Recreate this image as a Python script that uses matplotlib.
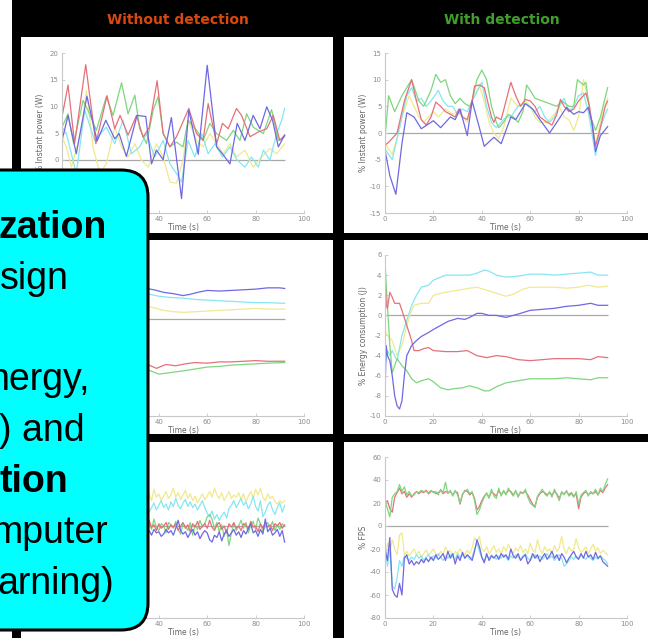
"""Slide crop: power / energy / FPS traces with and without detection."""

import matplotlib

matplotlib.use("Agg")
import numpy as np
from matplotlib import pyplot as plt
from matplotlib.patches import FancyBboxPatch, Rectangle

plt.rcParams["axes.unicode_minus"] = False

W, H, DPI = 648, 638, 100

# ---------------------------------------------------------------- row 1: % instant power (W)
# without detection (left column)
pw_wo_red_t = [0, 2.5, 5.2, 9.8, 14, 18.6, 21.8, 24, 27.3, 30.8,
               33.5, 36, 39.3, 41.8, 44.6, 47.3, 52.4, 55.6, 58.3, 60.4,
               63.9, 66.3, 68.7, 72.1, 74.2, 77.7, 81.1, 84.6, 87.3, 90, 92]
pw_wo_red = [8, 14, 3, 17.8, 3, 12, 5.8, 8.3, 4.6, 8.3,
             4.2, 6, 14.8, 4.9, 2.4, 4.3, 9.6, 4.9, 3.6, 10.5,
             3, 6.8, 5.8, 9.6, 8.3, 4.3, 5.2, 5.8, 8.3, 3.6, 4.6]
pw_wo_blue_t = [0, 2.5, 5.9, 10.3, 14.5, 18.1, 21.8, 23.6, 26.6, 31,
                34.6, 37, 39, 41.8, 45.2, 49.4, 52.4, 56.3, 60, 63.9,
                66.3, 69.4, 72.4, 75.6, 79, 81.8, 84.6, 87, 89.4, 92]
pw_wo_blue = [3.6, 8.3, 1.1, 11.9, 3.5, 7.4, 3.9, 4.9, 0.6, 8.3,
              8.1, -0.8, 1.8, 0, 7.9, -7.3, 9.3, 1, 17.7, 2.4,
              1.1, -0.8, 6.8, 3.6, 8.3, 5.8, 9.9, 7.4, 2.4, 4.6]
pw_wo_green_t = [0, 2.5, 4.8, 8.7, 11.4, 14.2, 18.3, 21.1, 24.6, 27.3,
                 30.1, 32.1, 34.9, 37.7, 39.7, 41.8, 44.6, 47.3, 50, 52.1,
                 55.6, 58.3, 61.1, 63.9, 68, 70.8, 73.5, 76.3, 79, 83.2,
                 86.6, 89.4, 92]
pw_wo_green = [6.1, 8.6, 3, 11.1, 8.6, 5.5, 11.8, 8.3, 14.4, 8.6,
               12.1, 5.8, 3, 9.3, 11.8, 4.9, 2.4, 3.3, 2.4, 7.4,
               5.5, 3.6, 6.8, 4.9, 3.6, 5.5, 3.6, 8.6, 6.1, 4.9,
               9.4, 3.6, 4.3]
pw_wo_cyan_t = [0, 1.8, 5.9, 9.4, 13.5, 18.3, 21.8, 25.2, 28.7, 32.1,
                34.9, 38.3, 41.8, 44.6, 47.3, 49.4, 52.1, 54.9, 57.7, 60.4,
                63.2, 66.3, 69.4, 72.4, 75.6, 78.3, 81.1, 83.2, 85.9, 88.7,
                90.8, 92]
pw_wo_cyan = [6.1, 4.9, -2.6, 9.3, 3.6, 6.1, 3, 7.4, 1.1, 2.4,
              4.9, 0.5, 3.6, -0.8, -2.6, -4.2, 3.6, 0.5, 4.9, 1.1,
              3, 0.5, 2.4, -0.1, -1.4, 0.5, -1.4, 1.8, -0.1, 4.9,
              7.4, 9.6]
pw_wo_yellow_t = [0, 1.8, 3.9, 8, 10.1, 12.8, 15.6, 18.3, 21.8, 24.6,
                  27.3, 30.1, 32.8, 35.6, 39, 41.8, 44.6, 47.3, 50, 52.1,
                  55.6, 58.3, 61.1, 63.9, 66.6, 69.4, 72.1, 75.6, 79, 82.5,
                  85.9, 88.7, 92]
pw_wo_yellow = [4.2, 2.4, -1.4, 5.5, 13, 2.4, -2.6, -0.8, 6.1, 2.4,
                0.5, 3, -0.1, -1.4, 3, 0.5, -4.2, -4.4, -0.1, 7.4,
                3.6, 2.4, 4.9, 3, 1.1, 3, 0.5, 1.8, -1.4, 0.5,
                2.1, 1.1, 3]

# with detection (right column)
pw_wd_red_t = [0, 2, 5, 8, 11, 13, 15, 17, 19, 21,
               23, 25, 27, 29, 30.5, 32, 34, 36, 37, 39,
               41, 44, 45, 46, 48, 50, 52, 54, 56, 58,
               60, 62, 64, 67, 69, 71, 72.5, 74, 76, 78,
               80, 83, 84.5, 87, 89, 91, 92]
pw_wd_red = [-2.3, -1.5, 0, 6, 10, 6, 2.5, 1.5, 3, 5.8,
             5, 4, 3.5, 3, 4.5, 3, 2.5, 6, 8.8, 9,
             8.5, 3, 2, 3, 2.5, 6, 9.5, 7, 5, 6.3,
             6, 5, 3, 2, 1.5, 3.5, 6.3, 5, 4, 4.5,
             6, 7.5, 5, -2.5, 1, 5, 6]
pw_wd_blue_t = [0, 2, 4.5, 7, 9, 12, 15, 20, 23, 27,
                29, 31, 34, 36, 39, 41, 45, 48, 52, 54,
                58, 61, 64, 68, 71, 75, 78, 80, 82, 84,
                85.5, 87, 89, 92]
pw_wd_blue = [-3.2, -8, -11.5, -2, 3.8, 3, 0.8, 2.3, 1, 3,
              2.5, 4.5, -0.5, 6, 1, -2.5, -0.8, -2, 3, 2.5,
              5.5, 4.5, 2.5, 0, 2, 4.8, 3.5, 4, 3.8, 4.8,
              2, -3.5, -0.5, 1.2]
pw_wd_green_t = [0, 1.5, 4, 7, 11, 14, 16, 19, 21, 23,
                 25, 27, 29, 31, 33, 35, 36, 38, 40, 42,
                 44, 46, 47, 49, 51, 53, 55, 57, 58.5, 60,
                 62, 65, 68, 71, 73, 76, 78, 79.5, 82, 83,
                 85, 87, 89, 92]
pw_wd_green = [-1, 7, 4, 7, 10, 6, 5, 8, 11, 9.5,
               10, 7, 5.5, 6.5, 5.5, 5, 6, 10, 11.8, 10,
               5, 2, 1, 2, 3.5, 3, 2, 4, 9, 8,
               6.5, 6, 5.5, 5, 6, 5, 5, 10, 9, 9.5,
               3, 0.5, 3, 8.5]
pw_wd_cyan_t = [0, 3, 6, 9, 11, 13, 15, 17, 19, 22,
                24, 26, 28, 30, 32, 34, 36, 40, 42, 44,
                46, 48, 50, 52, 55, 58, 60, 62, 64, 66,
                68, 70, 72, 74, 76, 78, 80, 82, 84, 87,
                89, 91, 92]
pw_wd_cyan = [-3, -5, 1, 7, 8.5, 6, 6.5, 5, 6, 8,
              6, 5, 5, 3.5, 4.5, 4, 6, 9.5, 5, 2,
              1, 2, 3, 3, 5, 5.5, 5, 4, 5, 3,
              2, 3, 5, 6.5, 4, 5, 7, 7.5, 4, -4.2,
              1, 3.5, 4.5]
pw_wd_yellow_t = [0, 3, 5, 7, 10, 12, 14, 16, 18, 20,
                  22, 25, 28, 30, 32, 34, 36, 39, 41, 43,
                  45, 47, 49, 52, 55, 58, 60, 62, 64, 67,
                  70, 72, 74, 76, 78, 80, 82, 84, 86, 87,
                  90, 92]
pw_wd_yellow = [-2, -4, -1, 3, 7, 5, 3, 2, 3, 4,
                3, 4.5, 3.5, 4, 3, 2, 6, 9, 6, 2,
                0, -1, 1, 6.5, 5, 6, 5, 3, 2, 2,
                3.5, 5, 3, 2.5, 0.5, 3, 10, 6, 0, -2,
                4, 6.5]

# ---------------------------------------------------------------- row 2: % energy consumption (J)
en_wo_blue_t = [0, 2, 5, 10, 15, 20, 25, 30, 35, 38, 42, 46, 50, 53, 56, 60, 65, 70, 75, 80, 85, 90, 92]
en_wo_blue = [2, 6, 8, 7, 6, 5.5, 5.2, 5, 4.8, 4.6, 4.2, 4.0, 3.7, 3.9, 4.2, 4.5, 4.4, 4.5, 4.6, 4.7, 4.9, 4.9, 4.8]
en_wo_cyan_t = [0, 2, 5, 10, 15, 20, 25, 30, 35, 40, 45, 50, 55, 60, 65, 70, 75, 80, 85, 92]
en_wo_cyan = [3, 6, 5, 4.5, 4.3, 4.2, 4.1, 4.0, 4.0, 3.6, 3.4, 3.3, 3.1, 3.0, 2.9, 2.8, 2.7, 2.6, 2.6, 2.5]
en_wo_yellow_t = [0, 2, 5, 10, 15, 20, 25, 30, 36, 42, 46, 50, 55, 60, 65, 70, 75, 80, 85, 92]
en_wo_yellow = [1, 3, 2.5, 2.2, 2, 2.3, 2.1, 2.0, 2.0, 1.4, 1.2, 1.1, 1.2, 1.3, 1.4, 1.5, 1.6, 1.7, 1.6, 1.6]
en_wo_red_t = [0, 2, 5, 10, 15, 20, 25, 30, 36, 39, 43, 47, 51, 55, 60, 65, 70, 75, 80, 85, 92]
en_wo_red = [-2, -5, -6, -6.5, -6.8, -7, -7, -6.9, -7.1, -7.6, -7.0, -7.2, -6.9, -6.7, -6.8, -6.6, -6.6, -6.5,
             -6.4, -6.5, -6.5]
en_wo_green_t = [0, 2, 5, 10, 15, 20, 25, 30, 36, 40, 44, 50, 55, 60, 65, 70, 75, 80, 85, 92]
en_wo_green = [-3, -6, -7, -7.5, -7.6, -7.8, -7.7, -7.8, -7.9, -8.5, -8.3, -8.0, -7.7, -7.4, -7.3, -7.1, -7.0,
               -6.9, -6.8, -6.7]

en_wd_cyan_t = [0, 1, 2, 3, 5, 7, 9, 11, 13, 15, 18, 20, 23, 25, 30, 35, 38, 41, 43, 46,
                50, 55, 60, 65, 70, 75, 80, 85, 88, 92]
en_wd_cyan = [-5, -3.5, -4, -3.5, -4.5, -2, -0.5, 1, 2, 2.8, 3, 3.5, 3.8, 4, 4, 4, 4.2, 4.5, 4.4, 4,
              3.8, 3.9, 4.1, 4.1, 4, 4.1, 4.2, 4.3, 4, 4]
en_wd_yellow_t = [0, 1, 3, 5, 7, 9, 11, 12, 15, 18, 20, 25, 30, 35, 38, 42, 46, 50, 53, 57,
                  60, 65, 70, 75, 80, 84, 88, 92]
en_wd_yellow = [-1.5, -2, -2.5, -4, -3, -1, 0.5, 1, 1.2, 1.2, 2, 2.3, 2.5, 2.7, 2.8, 2.5, 2.2, 1.9, 2.1, 2.6,
                2.8, 2.8, 2.8, 2.7, 2.8, 3, 2.8, 2.9]
en_wd_red_t = [0, 0.5, 1, 2, 3, 4, 6, 7, 9, 11, 12, 14, 16, 18, 20, 25, 30, 34, 38, 42,
               46, 50, 55, 60, 65, 70, 75, 80, 85, 88, 92]
en_wd_red = [4, 1, 0.7, 2.3, 1.8, 1.2, 1.2, 0.5, -1, -2.5, -3.5, -3.5, -3.3, -3.2, -3.5, -3.6, -3.6, -3.5, -4, -4.2,
             -4, -4.1, -4.4, -4.5, -4.4, -4.3, -4.3, -4.3, -4.4, -4.1, -4.2]
en_wd_green_t = [0, 0.5, 1, 2, 3, 4, 5, 7, 9, 11, 13, 15, 18, 20, 23, 26, 28, 32, 35, 38,
                 41, 43, 46, 50, 55, 60, 65, 70, 75, 80, 85, 88, 92]
en_wd_green = [5.5, 3, 1, -3, -5.7, -5, -4.3, -5, -5.5, -6.3, -6.7, -6.5, -6.3, -6.6, -7.2, -7.4, -7.3, -7.2, -7, -7.2,
               -7.5, -7.5, -7.1, -6.7, -6.5, -6.3, -6.3, -6.3, -6.2, -6.3, -6.4, -6.2, -6.2]
en_wd_blue_t = [0, 0.5, 1, 2, 3, 4, 5, 6, 7, 8, 9, 11, 13, 15, 18, 20, 23, 26, 30, 33,
                35, 38, 40, 43, 46, 48, 50, 53, 56, 60, 65, 70, 75, 80, 85, 88, 92]
en_wd_blue = [-8, -3, -4, -4.5, -6, -8, -9, -9.3, -8.5, -6, -4, -3, -2.5, -2.1, -1.7, -1.4, -1, -0.6, -0.3, -0.4,
              -0.2, 0.2, 0.2, 0, 0, -0.1, -0.2, 0, 0.2, 0.5, 0.6, 0.7, 0.9, 1, 1.2, 1, 1]

# ---------------------------------------------------------------- row 3: % FPS, one reading per second
fps_t = list(range(93))
fps_wo_yellow = [5, 12, 18, 22, 20, 25, 19, 23, 21, 26, 22, 24, 20, 27, 23, 21, 25, 22, 28, 24,
                 20, 23, 26, 22, 25, 21, 27, 23, 24, 20, 26, 22, 25, 21, 24, 27, 28, 22, 32, 25,
                 28, 22, 26, 30, 24, 27, 33, 25, 29, 23, 27, 31, 24, 28, 22, 26, 20, 24, 28, 23,
                 26, 30, 25, 33, 27, 24, 29, 22, 26, 30, 24, 27, 25, 29, 23, 28, 21, 26, 30, 24,
                 32, 27, 33, 25, 22, 28, 24, 26, 21, 19, 22, 20, 22]
fps_wo_cyan = [3, 8, 12, 15, 14, 18, 13, 16, 12, 17, 14, 19, 15, 12, 18, 16, 13, 17, 20, 15,
               12, 16, 19, 14, 17, 13, 18, 15, 20, 16, 14, 18, 13, 17, 15, 19, 12, 16, 20, 14,
               18, 22, 16, 19, 14, 21, 17, 24, 18, 15, 20, 23, 17, 21, 16, 19, 14, 18, 22, 16,
               11, 8, 13, 6, 10, 5, 9, 12, 7, 15, 18, 22, 16, 20, 24, 18, 21, 15, 19, 26,
               17, 13, 22, 8, 12, 18, 21, 14, 10, 16, 20, 12, 18]
fps_wo_blue = [-2, -6, -4, -8, -5, -3, -7, -4, -9, -5, -2, -6, -8, -4, -7, -3, -5, -9, -6, -4,
               -7, -2, -5, -8, -4, -6, -3, -7, -5, -9, -4, -6, -2, -7, -5, -3, -4, -8, -3, -6,
               -5, -9, -7, -3, -6, -4, -8, -2, 5, -4, -7, -5, -10, -6, -3, -8, -5, -11, -7, -4,
               -6, -12, -14, -8, -10, -5, -13, -7, -4, -9, -6, -3, -8, -5, -10, -4, -7, -2, 2, -6,
               -4, -9, -3, -7, 6, -5, -2, -8, -6, -3, -9, -4, -14]
fps_wo_red = [0, 2, -1, 3, -2, 1, -3, 2, 0, -1, 3, -2, 1, -4, 2, 0, -1, 3, -2, 1,
              -3, 2, 0, -2, 4, -1, 1, -3, 2, 0, -2, 3, -1, 1, -3, 2, 5, -1, 1, -4,
              2, -2, 0, 3, -3, 1, -1, 2, -4, 0, 3, -2, 1, -5, 2, -1, 4, -3, 0, 2,
              -2, 5, -1, -4, 1, 3, -3, 0, -6, 2, -1, 3, -2, 0, -4, 2, 1, -3, 4, -1,
              0, -5, 2, -2, 3, -1, 1, -4, 2, 0, 3, -2, 1]
fps_wo_green = [2, -3, 4, -5, 1, 3, -2, 5, -4, 0, 3, -6, 2, -1, 4, -3, 0, 5, -2, 1,
                -4, 3, -1, 2, -5, 4, 0, -3, 2, -1, 4, -2, 1, -5, 3, 0, 2, -3, 6, -1,
                -4, 2, 0, -6, 3, 1, -2, 4, -3, -7, 2, 0, -4, 3, -8, 1, -3, 5, -1, 2,
                8, 10, 6, -2, 3, -5, 1, -9, -3, -17, -6, 2, -4, 0, 5, -2, 3, -6, 1, 4,
                -3, 7, 2, -5, 0, 3, -2, 4, -4, 1, -3, 2, 0]

fps_wd_green = [22, 15, 8, 25, 28, 30, 36, 30, 34, 27, 30, 26, 27, 30, 29, 31, 30, 30, 29, 31,
                29, 30, 27, 32, 29, 38, 28, 31, 26, 31, 27, 20, 28, 30, 32, 28, 30, 22, 10, 14,
                20, 25, 29, 24, 32, 26, 24, 33, 26, 31, 27, 33, 29, 26, 31, 25, 30, 28, 32, 25,
                20, 18, 16, 26, 29, 32, 28, 26, 30, 25, 32, 27, 22, 30, 27, 31, 26, 28, 25, 30,
                19, 27, 29, 31, 26, 30, 28, 32, 27, 33, 30, 36, 41]
fps_wd_red = [20, 22, 15, 12, 25, 29, 33, 28, 30, 25, 28, 25, 28, 30, 28, 30, 29, 31, 28, 30,
              30, 28, 29, 31, 28, 30, 29, 30, 27, 30, 29, 19, 27, 31, 30, 27, 29, 24, 14, 17,
              22, 26, 28, 25, 30, 28, 26, 31, 27, 30, 28, 31, 30, 27, 30, 26, 29, 29, 30, 27,
              23, 19, 17, 25, 28, 30, 29, 27, 29, 27, 30, 28, 24, 29, 28, 30, 27, 29, 26, 28,
              15, 25, 28, 30, 27, 29, 28, 30, 27, 31, 29, 33, 36]
fps_wd_blue = [-20, -30, -10, -55, -60, -62, -50, -60, -28, -25, -33, -30, -34, -31, -33, -29, -32, -28, -31, -27,
               -30, -25, -29, -27, -24, -30, -22, -28, -24, -33, -26, -30, -23, -28, -25, -27, -30, -22, -12, -18,
               -27, -32, -24, -30, -26, -28, -25, -29, -24, -27, -25, -29, -20, -26, -28, -24, -30, -27, -25, -33,
               -30, -24, -28, -25, -31, -27, -24, -29, -26, -22, -28, -25, -30, -24, -27, -32, -28, -25, -22, -27,
               -29, -24, -28, -22, -27, -25, -29, -23, -28, -26, -31, -33, -35]
fps_wd_cyan = [-15, -35, -20, -52, -55, -45, -30, -35, -26, -28, -30, -27, -29, -25, -28, -26, -30, -27, -25, -29,
               -26, -28, -24, -27, -30, -26, -28, -25, -27, -29, -24, -27, -25, -28, -26, -29, -27, -20, -15, -22,
               -28, -30, -26, -28, -25, -27, -29, -26, -28, -25, -27, -30, -26, -28, -25, -27, -29, -26, -24, -28,
               -30, -27, -25, -28, -26, -29, -27, -24, -28, -26, -30, -27, -25, -28, -35, -33, -30, -27, -29, -26,
               -28, -25, -27, -29, -26, -28, -30, -27, -29, -26, -28, -30, -33]
fps_wd_yellow = [-30, -15, -22, -12, -20, -25, -8, -6, -25, -22, -26, -23, -20, -25, -22, -27, -24, -21, -25, -23,
                 -20, -24, -26, -22, -25, -18, -23, -21, -26, -22, -24, -20, -23, -25, -21, -24, -19, -10, -14, -9,
                 -20, -22, -18, -24, -21, -17, -23, -20, -24, -18, -22, -16, -21, -24, -19, -22, -17, -23, -20, -24,
                 -15, -21, -23, -12, -20, -24, -18, -22, -20, -24, -17, -22, -19, -9, -20, -24, -18, -22, -20, -11,
                 -19, -23, -21, -18, -24, -20, -16, -22, -19, -24, -21, -23, -25]

COLORS = {
    "red": "#e5707a",
    "green": "#7fd67f",
    "blue": "#6f68e2",
    "cyan": "#86e6f0",
    "yellow": "#f1e98e",
}

POWER = "% Instant power (W)"
ENERGY = "% Energy consumption (J)"
FPS = "% FPS"

# (panel pixel box, axes pixel box, ylim, ystep, ylabel, traces)
PANELS = [
    ((21, 37, 333, 233), (62, 53, 304, 213), (-10, 20), 5, POWER, [
        ("yellow", pw_wo_yellow_t, pw_wo_yellow), ("cyan", pw_wo_cyan_t, pw_wo_cyan),
        ("green", pw_wo_green_t, pw_wo_green), ("red", pw_wo_red_t, pw_wo_red),
        ("blue", pw_wo_blue_t, pw_wo_blue)]),
    ((344, 37, 648, 233), (385, 53, 627, 213), (-15, 15), 5, POWER, [
        ("yellow", pw_wd_yellow_t, pw_wd_yellow), ("cyan", pw_wd_cyan_t, pw_wd_cyan),
        ("green", pw_wd_green_t, pw_wd_green), ("red", pw_wd_red_t, pw_wd_red),
        ("blue", pw_wd_blue_t, pw_wd_blue)]),
    ((21, 240, 333, 434), (62, 255, 304, 416), (-15, 10), 5, ENERGY, [
        ("yellow", en_wo_yellow_t, en_wo_yellow), ("cyan", en_wo_cyan_t, en_wo_cyan),
        ("green", en_wo_green_t, en_wo_green), ("red", en_wo_red_t, en_wo_red),
        ("blue", en_wo_blue_t, en_wo_blue)]),
    ((344, 240, 648, 434), (385, 255, 627, 416), (-10, 6), 2, ENERGY, [
        ("yellow", en_wd_yellow_t, en_wd_yellow), ("cyan", en_wd_cyan_t, en_wd_cyan),
        ("green", en_wd_green_t, en_wd_green), ("red", en_wd_red_t, en_wd_red),
        ("blue", en_wd_blue_t, en_wd_blue)]),
    ((21, 442, 333, 638), (62, 457, 304, 618), (-80, 60), 20, FPS, [
        ("yellow", fps_t, fps_wo_yellow), ("cyan", fps_t, fps_wo_cyan),
        ("green", fps_t, fps_wo_green), ("red", fps_t, fps_wo_red),
        ("blue", fps_t, fps_wo_blue)]),
    ((344, 442, 648, 638), (385, 457, 627, 618), (-80, 60), 20, FPS, [
        ("yellow", fps_t, fps_wd_yellow), ("cyan", fps_t, fps_wd_cyan),
        ("blue", fps_t, fps_wd_blue), ("red", fps_t, fps_wd_red),
        ("green", fps_t, fps_wd_green)]),
]

BOX_LINES = [
    ("zation", "bold", -1),
    ("sign", "normal", 0),
    ("", "normal", 0),
    ("nergy,", "normal", -12),
    (") and", "normal", -1),
    ("tion", "bold", -1),
    ("mputer", "normal", -9),
    ("arning)", "normal", -3),
]


def fig_rect(x0, y0, x1, y1):
    return [x0 / W, 1 - y1 / H, (x1 - x0) / W, (y1 - y0) / H]


def style_axes(ax, ylim, ystep, ylabel):
    ax.set_xlim(0, 100)
    ax.set_ylim(*ylim)
    ax.set_xticks(range(0, 101, 20))
    ax.set_yticks(np.arange(ylim[0], ylim[1] + ystep / 2, ystep))
    for side in ("top", "right"):
        ax.spines[side].set_visible(False)
    for side in ("left", "bottom"):
        ax.spines[side].set_color("#c8c8c8")
        ax.spines[side].set_linewidth(0.8)
    ax.tick_params(direction="in", length=2, width=0.6, color="#c8c8c8",
                   labelsize=5, labelcolor="#8c8c8c", pad=2.5)
    ax.set_xlabel("Time (s)", fontsize=5.5, color="#666666", labelpad=0.5)
    ax.set_ylabel(ylabel, fontsize=5.5, color="#666666", labelpad=1.5)


fig = plt.figure(figsize=(W / DPI, H / DPI), dpi=DPI, facecolor="black")

# white strip along the left edge of the slide
fig.add_artist(Rectangle((0, 0), 12 / W, 1, transform=fig.transFigure,
                         facecolor="white", edgecolor="none", zorder=-5))

for panel_box, axes_box, ylim, ystep, ylabel, traces in PANELS:
    x0, y0, x1, y1 = panel_box
    fig.add_artist(Rectangle((x0 / W, 1 - y1 / H), (x1 - x0) / W, (y1 - y0) / H,
                             transform=fig.transFigure, facecolor="white",
                             edgecolor="none", zorder=-5))
    ax = fig.add_axes(fig_rect(*axes_box))
    ax.patch.set_alpha(0)
    style_axes(ax, ylim, ystep, ylabel)
    t_end = max(max(t) for _, t, _ in traces)
    ax.hlines(0, 0, t_end, color="#a8a8a8", linewidth=0.9, zorder=1)
    for color, t, values in traces:
        ax.plot(t, values, color=COLORS[color], linewidth=0.9, zorder=2)

fig.text(178 / W, 1 - 20 / H, "Without detection", color="#d9480f",
         fontsize=10, fontweight="bold", ha="center", va="center")
fig.text(502 / W, 1 - 20 / H, "With detection", color="#3f9f2a",
         fontsize=10, fontweight="bold", ha="center", va="center")

# cyan call-out box laid over the left column, in pixel coordinates
overlay = fig.add_axes([0, 0, 1, 1])
overlay.set_xlim(0, W)
overlay.set_ylim(H, 0)
overlay.axis("off")
overlay.set_zorder(10)
overlay.patch.set_alpha(0)
overlay.add_patch(FancyBboxPatch((-40, 170), 188, 460,
                                 boxstyle="round,pad=0,rounding_size=27",
                                 facecolor="#00ffff", edgecolor="black", linewidth=2.2))
for i, (line, weight, x) in enumerate(BOX_LINES):
    overlay.text(x, 238 + i * 50.8, line, fontsize=27, fontweight=weight,
                 family="Liberation Sans", color="black", va="baseline", ha="left")

fig.savefig("out.png", dpi=DPI, facecolor="black")
